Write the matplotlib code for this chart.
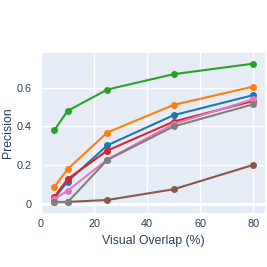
import matplotlib
matplotlib.use("Agg")
import matplotlib.pyplot as plt

plt.rcParams["font.family"] = ["Liberation Sans", "DejaVu Sans"]

overlap = [5, 10, 25, 50, 80]
blue = [0.030, 0.117, 0.303, 0.458, 0.561]
orange = [0.089, 0.180, 0.369, 0.511, 0.605]
green = [0.380, 0.480, 0.590, 0.669, 0.723]
red = [0.036, 0.129, 0.276, 0.425, 0.531]
brown = [0.012, 0.012, 0.022, 0.077, 0.202]
pink = [0.027, 0.069, 0.230, 0.413, 0.540]
gray = [0.010, 0.010, 0.228, 0.400, 0.514]

series = [
    (blue, "#1f77b4"),
    (orange, "#ff7f0e"),
    (green, "#2ca02c"),
    (red, "#d62728"),
    (brown, "#8c564b"),
    (pink, "#e377c2"),
    (gray, "#7f7f7f"),
]

W, H = 267, 267
fig = plt.figure(figsize=(W / 100, H / 100), dpi=100)
left, right, top, bottom = 41, 265, 53, 213
aw, ah = right - left, bottom - top
ax = fig.add_axes([left / W, 1 - bottom / H, aw / W, ah / H])
ax.set_facecolor("#E5ECF6")
for s in ax.spines.values():
    s.set_visible(False)

for vals, col in series:
    ax.plot(overlap, vals, color=col, lw=1.5, marker="o", ms=4, zorder=3)

ax.set_xlim(0, 84.5)
ax.set_ylim(-0.045, 0.778)
ax.set_xticks([0, 20, 40, 60, 80])
ax.set_yticks([0, 0.2, 0.4, 0.6])
ax.set_yticklabels(["0", "0.2", "0.4", "0.6"])
ax.grid(True, color="white", lw=1)
ax.axhline(0, color="white", lw=2, zorder=1)
ax.set_axisbelow(True)
tc = "#2a3f5f"
ax.tick_params(axis="x", length=0, labelsize=7.8, colors=tc, pad=4)
ax.tick_params(axis="y", length=0, labelsize=7.8, colors=tc, pad=7)
ax.set_xlabel("Visual Overlap (%)", fontsize=8.8, color=tc)
ax.set_ylabel("Precision", fontsize=8.8, color=tc)
ax.xaxis.set_label_coords(0.5, -(241 - bottom) / ah, transform=ax.transAxes)
ax.xaxis.label.set_va("center")
ax.yaxis.set_label_coords(-(41 - 8) / aw, 0.5, transform=ax.transAxes)
ax.yaxis.label.set_va("center")

fig.savefig("out.png", dpi=100)
